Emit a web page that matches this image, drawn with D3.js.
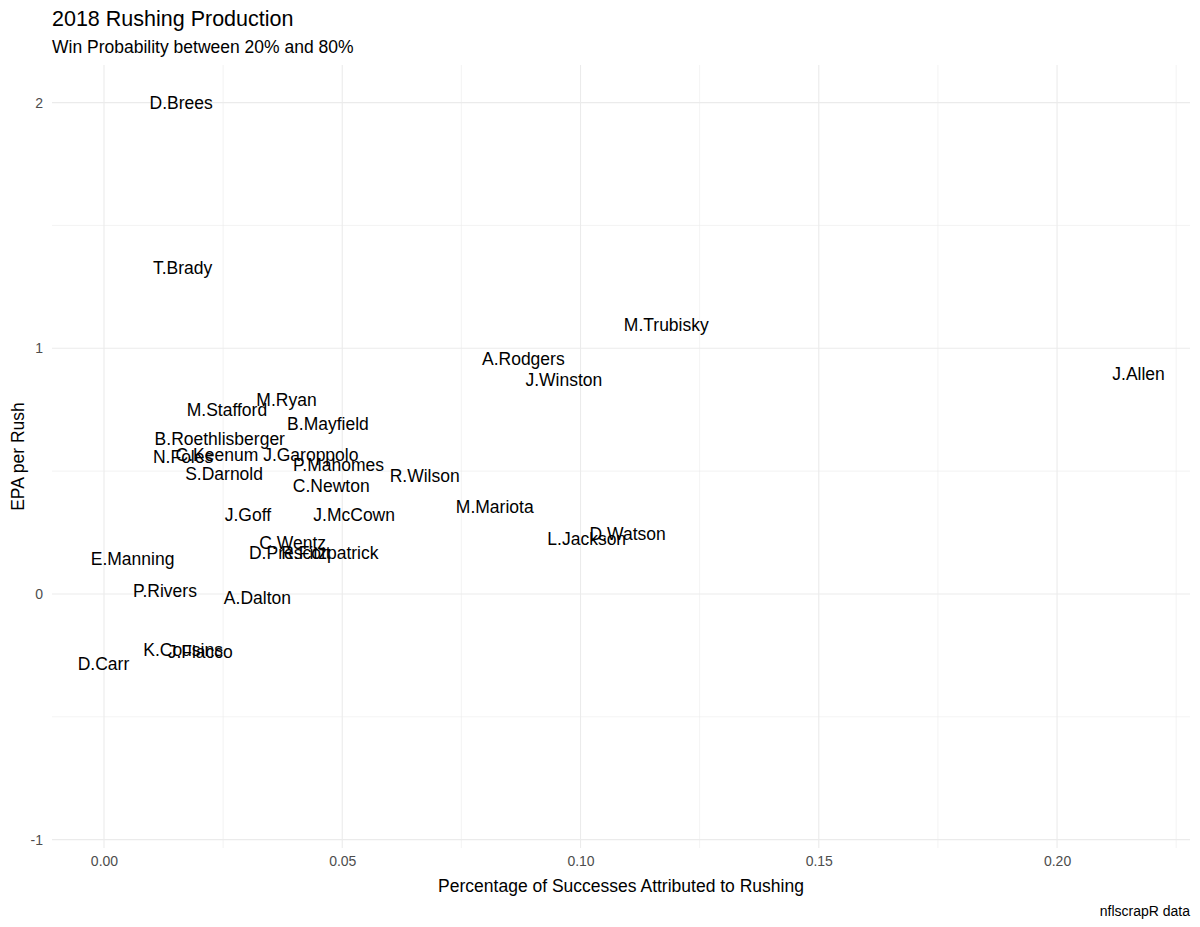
<!DOCTYPE html>
<html>
<head>
<meta charset="utf-8">
<script src="https://cdn.jsdelivr.net/npm/d3@7"></script>
<style>
  html, body { margin: 0; padding: 0; background: #ffffff; }
  svg { display: block; font-family: "Liberation Sans", Arial, Helvetica, sans-serif; }
</style>
</head>
<body>
<svg id="chart" width="1200" height="927"></svg>
<script>
// Data
const players = ["D.Brees","T.Brady","M.Trubisky","A.Rodgers","J.Winston","J.Allen","M.Ryan","M.Stafford",
  "B.Mayfield","B.Roethlisberger","N.Foles","C.Keenum","J.Garoppolo","P.Mahomes","S.Darnold","R.Wilson",
  "C.Newton","M.Mariota","J.Goff","J.McCown","D.Watson","L.Jackson","C.Wentz","D.Prescott","R.Fitzpatrick",
  "E.Manning","P.Rivers","A.Dalton","K.Cousins","J.Flacco","D.Carr"];
const rushShare = [0.0162,0.0165,0.1180,0.0880,0.0965,0.2171,0.0383,0.0258,
  0.0470,0.0243,0.0166,0.0237,0.0434,0.0492,0.0252,0.0673,
  0.0477,0.0820,0.0302,0.0525,0.1099,0.1013,0.0396,0.0390,0.0474,
  0.0060,0.0128,0.0322,0.0166,0.0202,-0.0001];
const epaPerRush = [1.998,1.327,1.095,0.956,0.871,0.895,0.790,0.749,
  0.692,0.631,0.558,0.566,0.566,0.525,0.488,0.480,
  0.440,0.354,0.322,0.322,0.244,0.224,0.208,0.167,0.167,
  0.142,0.012,-0.016,-0.228,-0.236,-0.285];
const xTicks = [0, 0.05, 0.10, 0.15, 0.20];
const xTickLabels = ["0.00","0.05","0.10","0.15","0.20"];
const xMinor = [0.025, 0.075, 0.125, 0.175, 0.225];
const yTicks = [-1, 0, 1, 2];
const yTickLabels = ["-1","0","1","2"];
const yMinor = [-0.5, 0.5, 1.5];

const svg = d3.select("#chart");
const panel = { left: 52, right: 1190, top: 65, bottom: 848 };

const x = d3.scaleLinear().domain([-0.01091, 0.2279]).range([panel.left, panel.right]);
const y = d3.scaleLinear().domain([-1.034, 2.153]).range([panel.bottom, panel.top]);

const grid = svg.append("g");
// minor grid
grid.selectAll("line.xminor").data(xMinor).join("line")
  .attr("x1", d => x(d)).attr("x2", d => x(d))
  .attr("y1", panel.top).attr("y2", panel.bottom)
  .attr("stroke", "#EBEBEB").attr("stroke-width", 0.6);
grid.selectAll("line.yminor").data(yMinor).join("line")
  .attr("y1", d => y(d)).attr("y2", d => y(d))
  .attr("x1", panel.left).attr("x2", panel.right)
  .attr("stroke", "#EBEBEB").attr("stroke-width", 0.6);
// major grid
grid.selectAll("line.xmajor").data(xTicks).join("line")
  .attr("x1", d => x(d)).attr("x2", d => x(d))
  .attr("y1", panel.top).attr("y2", panel.bottom)
  .attr("stroke", "#EBEBEB").attr("stroke-width", 1.1);
grid.selectAll("line.ymajor").data(yTicks).join("line")
  .attr("y1", d => y(d)).attr("y2", d => y(d))
  .attr("x1", panel.left).attr("x2", panel.right)
  .attr("stroke", "#EBEBEB").attr("stroke-width", 1.1);

// axes (no domain lines or ticks, only labels)
const xAxis = d3.axisBottom(x).tickValues(xTicks).tickFormat((d, i) => xTickLabels[i]).tickSize(0).tickPadding(8);
const gx = svg.append("g").attr("transform", `translate(0,${panel.bottom})`).call(xAxis);
gx.select(".domain").remove();
gx.selectAll("text").attr("fill", "#4D4D4D").style("font-size", "14px")
  .style("font-family", "'Liberation Sans', Arial, sans-serif");

const yAxis = d3.axisLeft(y).tickValues(yTicks).tickFormat((d, i) => yTickLabels[i]).tickSize(0).tickPadding(9);
const gy = svg.append("g").attr("transform", `translate(${panel.left},0)`).call(yAxis);
gy.select(".domain").remove();
gy.selectAll("text").attr("fill", "#4D4D4D").style("font-size", "14px")
  .style("font-family", "'Liberation Sans', Arial, sans-serif");

// labels
svg.append("g").selectAll("text").data(players).join("text")
  .attr("x", (d, i) => x(rushShare[i]))
  .attr("y", (d, i) => y(epaPerRush[i]))
  .attr("dy", "0.35em")
  .attr("text-anchor", "middle")
  .attr("fill", "#000000")
  .style("font-size", "17.5px")
  .text(d => d);

// titles
svg.append("text").attr("x", 52).attr("y", 26).attr("fill", "#000")
  .style("font-size", "21.5px").text("2018 Rushing Production");
svg.append("text").attr("x", 52).attr("y", 53).attr("fill", "#000")
  .style("font-size", "17.5px").text("Win Probability between 20% and 80%");
svg.append("text").attr("x", (panel.left + panel.right) / 2).attr("y", 892).attr("text-anchor", "middle")
  .attr("fill", "#000").style("font-size", "17.5px").text("Percentage of Successes Attributed to Rushing");
svg.append("text").attr("transform", `translate(24,${(panel.top + panel.bottom) / 2}) rotate(-90)`)
  .attr("text-anchor", "middle").attr("fill", "#000").style("font-size", "17.5px").text("EPA per Rush");
svg.append("text").attr("x", 1190).attr("y", 916).attr("text-anchor", "end")
  .attr("fill", "#000").style("font-size", "14px").text("nflscrapR data");
</script>
</body>
</html>
